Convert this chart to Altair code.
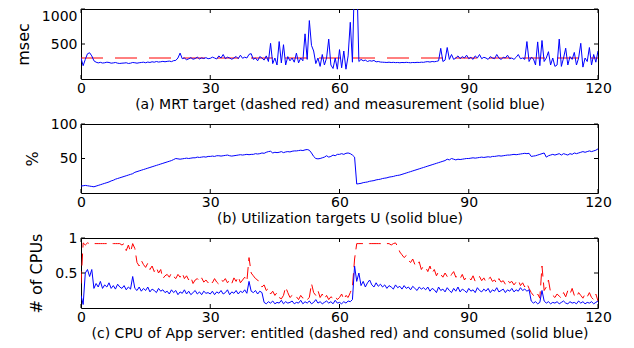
import altair as alt
import pandas as pd

STEP = 0.5  # minutes between samples

# (a) MRT measurement (msec), one value every 0.5 min from 0 to 120
mrt_measured = [
    300, 190, 280, 360, 375, 330, 260, 240, 230, 238, 228, 232, 240, 236, 226, 230, 236, 226, 222, 226,
    228, 232, 222, 226, 236, 232, 226, 232, 236, 240, 232, 242, 236, 246, 240, 250, 242, 246, 252, 246,
    252, 256, 248, 262, 266, 300, 370, 290, 300, 275, 288, 305, 282, 292, 312, 286, 302, 292, 305, 290,
    295, 312, 300, 286, 330, 300, 350, 290, 312, 300, 282, 300, 322, 290, 340, 296, 312, 300, 352, 362,
    280, 300, 260, 320, 300, 270, 330, 250, 510, 220, 300, 200, 535, 230, 490, 200, 320, 260, 300, 240,
    370, 230, 300, 260, 645, 280, 835, 480, 400, 220, 300, 180, 350, 200, 300, 570, 200, 150, 300, 140,
    420, 160, 400, 140, 330, 810, 240, 1500, 1500, 250, 280, 260, 270, 250, 262, 255, 265, 245, 250, 242,
    240, 238, 236, 240, 235, 238, 234, 236, 232, 236, 234, 238, 235, 232, 236, 234, 238, 236, 240, 238,
    245, 248, 242, 250, 246, 252, 260, 438, 250, 270, 450, 280, 350, 280, 300, 330, 290, 320, 300, 340,
    290, 310, 280, 330, 300, 350, 290, 310, 300, 280, 320, 300, 290, 350, 300, 280, 310, 300, 340, 290,
    300, 280, 310, 350, 290, 300, 280, 535, 250, 310, 290, 200, 530, 190, 550, 250, 300, 390, 200, 300,
    180, 200, 570, 180, 300, 440, 200, 320, 280, 380, 200, 300, 510, 170, 300, 250, 450, 200, 350, 240,
    400,
]
mrt_target_t = [0, 120]
mrt_target = [300, 300]

# (b) Utilization target U (%)
util = [
    10, 10.5, 11, 10.5, 10, 9.5, 9, 10, 11, 12, 13, 14, 15, 16, 17.5, 18.5, 20, 21, 22, 23,
    24, 25, 26, 27, 28, 30, 31, 32, 33, 34, 35, 36, 37, 38, 39, 40, 41, 42, 43, 44,
    45, 46, 47, 48.5, 50, 49.5, 49, 49.5, 50, 50.5, 50, 50.5, 51, 51, 52, 51.5, 52, 52.5, 52, 53,
    53, 53.5, 53, 54, 54, 53.5, 54, 54.5, 55, 54, 53.5, 54, 54.5, 55, 55.5, 55, 55.5, 56, 55.5, 56,
    56, 57, 56.5, 57, 58, 57.5, 59, 60, 60.5, 58, 59, 58.5, 59, 60, 58.5, 59.5, 60, 59.5, 60.5, 61,
    61, 61.5, 62, 61.5, 62.5, 63, 62, 58, 53, 50, 49.5, 50, 51, 52, 54, 52, 53, 55, 54, 56,
    56, 57, 56, 57.5, 58, 57, 55, 52, 13, 13.5, 14, 15, 15.5, 16, 17, 17.5, 18, 19, 19.5, 20,
    21, 21.5, 22, 23, 23.5, 24, 25, 25.5, 26, 27, 28, 29, 30, 31, 32, 33, 34, 35, 36, 37,
    38, 39, 40, 41, 42, 43, 44, 45, 46, 47, 49, 48, 50, 49, 48, 49, 48.5, 49, 49.5, 50,
    50, 50.5, 51, 50.5, 51, 51.5, 52, 51.5, 52, 52.5, 52, 53, 53, 53.5, 54, 53.5, 54, 54.5, 55, 55,
    55.5, 56, 55.5, 56, 56.5, 57, 57.5, 57, 57.5, 53, 53.5, 54, 55, 56, 57, 58, 52, 54, 55, 56,
    55, 56, 57, 55, 57, 56, 55, 57, 56, 58, 57, 58, 59, 60, 59, 60, 61, 60, 61, 62,
    64,
]

# (c) CPU of App server (# of CPUs)
cpu_consumed = [
    0.18, 0.05, 0.50, 0.55, 0.45, 0.55, 0.28, 0.35, 0.30, 0.38, 0.28, 0.33, 0.30, 0.36, 0.28, 0.32, 0.27, 0.34, 0.30, 0.28,
    0.32, 0.26, 0.30, 0.27, 0.45, 0.28, 0.25, 0.30, 0.24, 0.28, 0.25, 0.30, 0.23, 0.27, 0.25, 0.22, 0.28, 0.24, 0.26, 0.22,
    0.24, 0.20, 0.26, 0.22, 0.25, 0.19, 0.23, 0.21, 0.26, 0.20, 0.24, 0.19, 0.22, 0.25, 0.20, 0.23, 0.19, 0.24, 0.21, 0.22,
    0.20, 0.24, 0.19, 0.23, 0.21, 0.25, 0.20, 0.22, 0.26, 0.19, 0.23, 0.21, 0.25, 0.20, 0.24, 0.22, 0.26, 0.21, 0.38, 0.24,
    0.22, 0.25, 0.20, 0.24, 0.22, 0.08, 0.06, 0.09, 0.07, 0.10, 0.06, 0.08, 0.07, 0.11, 0.06, 0.09, 0.07, 0.08, 0.10, 0.06,
    0.08, 0.07, 0.11, 0.06, 0.09, 0.07, 0.10, 0.06, 0.08, 0.12, 0.07, 0.09, 0.06, 0.08, 0.10, 0.07, 0.09, 0.06, 0.11, 0.07,
    0.08, 0.06, 0.09, 0.07, 0.10, 0.09, 0.12, 0.60, 0.38, 0.50, 0.32, 0.38, 0.30, 0.36, 0.40, 0.33, 0.30, 0.36, 0.31, 0.34,
    0.30, 0.33, 0.28, 0.32, 0.30, 0.27, 0.33, 0.29, 0.31, 0.27, 0.32, 0.28, 0.30, 0.26, 0.31, 0.28, 0.25, 0.30, 0.27, 0.29,
    0.26, 0.30, 0.24, 0.28, 0.26, 0.22, 0.30, 0.25, 0.27, 0.23, 0.29, 0.25, 0.22, 0.28, 0.24, 0.30, 0.23, 0.27, 0.25, 0.22,
    0.28, 0.24, 0.26, 0.22, 0.29, 0.25, 0.23, 0.27, 0.24, 0.28, 0.22, 0.26, 0.24, 0.29, 0.23, 0.25, 0.27, 0.22, 0.26, 0.24,
    0.28, 0.23, 0.26, 0.24, 0.29, 0.25, 0.27, 0.24, 0.26, 0.10, 0.07, 0.09, 0.06, 0.08, 0.25, 0.10, 0.07, 0.09, 0.06, 0.08,
    0.07, 0.09, 0.06, 0.08, 0.10, 0.07, 0.06, 0.09, 0.07, 0.08, 0.06, 0.10, 0.07, 0.09, 0.06, 0.08, 0.07, 0.09, 0.06, 0.08,
    0.10,
]
cpu_entitled = [
    0.35, 0.93, 0.90, 0.93, 0.92, 0.92, 0.92, 0.92, 0.92, 0.92, 0.92, 0.92, 0.92, 0.92, 0.92, 0.92, 0.92, 0.92, 0.92, 0.90,
    0.92, 0.82, 0.90, 0.80, 0.92, 0.85, 0.65, 0.60, 0.68, 0.62, 0.58, 0.64, 0.55, 0.60, 0.52, 0.58, 0.50, 0.55, 0.42, 0.46,
    0.48, 0.44, 0.50, 0.45, 0.42, 0.48, 0.44, 0.50, 0.42, 0.46, 0.40, 0.44, 0.35, 0.40, 0.42, 0.38, 0.43, 0.37, 0.40, 0.36,
    0.40, 0.36, 0.42, 0.37, 0.34, 0.40, 0.38, 0.42, 0.36, 0.40, 0.35, 0.43, 0.38, 0.45, 0.36, 0.40, 0.44, 0.38, 0.72, 0.50,
    0.46, 0.42, 0.40, 0.35, 0.30, 0.33, 0.25, 0.28, 0.20, 0.24, 0.18, 0.22, 0.15, 0.13, 0.18, 0.30, 0.22, 0.15, 0.18, 0.14,
    0.16, 0.12, 0.18, 0.14, 0.16, 0.12, 0.15, 0.35, 0.22, 0.18, 0.25, 0.15, 0.20, 0.13, 0.18, 0.12, 0.16, 0.14, 0.17, 0.12,
    0.15, 0.20, 0.12, 0.18, 0.15, 0.22, 0.30, 0.70, 0.92, 0.92, 0.92, 0.92, 0.92, 0.92, 0.92, 0.92, 0.92, 0.92, 0.92, 0.92,
    0.92, 0.92, 0.92, 0.92, 0.90, 0.92, 0.93, 0.88, 0.80, 0.76, 0.72, 0.75, 0.68, 0.65, 0.70, 0.62, 0.60, 0.66, 0.55, 0.60,
    0.58, 0.52, 0.60, 0.50, 0.55, 0.46, 0.52, 0.48, 0.44, 0.50, 0.45, 0.42, 0.48, 0.52, 0.44, 0.46, 0.42, 0.48, 0.40, 0.45,
    0.44, 0.40, 0.46, 0.38, 0.42, 0.45, 0.39, 0.43, 0.37, 0.41, 0.44, 0.38, 0.40, 0.35, 0.42, 0.37, 0.39, 0.34, 0.40, 0.36,
    0.38, 0.33, 0.37, 0.40, 0.32, 0.36, 0.30, 0.35, 0.28, 0.22, 0.18, 0.15, 0.20, 0.14, 0.60, 0.25, 0.30, 0.40, 0.22, 0.18,
    0.15, 0.20, 0.17, 0.14, 0.22, 0.16, 0.25, 0.20, 0.28, 0.18, 0.15, 0.22, 0.18, 0.14, 0.20, 0.16, 0.22, 0.15, 0.12, 0.20,
    0.10,
]

x_ticks = [0, 30, 60, 90, 120]
y_ticks_a = [500, 1000]
y_ticks_b = [50, 100]
y_ticks_c = [0.5, 1]

title_a = "(a) MRT target (dashed red) and measurement (solid blue)"
title_b = "(b) Utilization targets  U (solid blue)"
title_c = "(c) CPU of App server: entitled (dashed red) and consumed (solid blue)"

FONT = "DejaVu Sans"
W = 517
BLUE = "#0000ff"
RED = "#ff0000"
TICK = 4


def times(n):
    return [i * STEP for i in range(n)]


def x_enc(xtitle):
    return alt.X(
        "t:Q",
        scale=alt.Scale(domain=[0, 120], nice=False, zero=False),
        axis=alt.Axis(values=x_ticks, title=xtitle, grid=False, tickSize=0, domain=False,
                      labelFlush=False, labelOverlap=False, labelPadding=2, titlePadding=2,
                      format="d", labelFont=FONT, labelFontSize=14, labelColor="black",
                      titleFont=FONT, titleFontSize=14, titleFontWeight="normal",
                      titleColor="black"),
    )


def y_enc(ytitle, ydomain, yticks, fmt, flush):
    return alt.Y(
        "v:Q",
        scale=alt.Scale(domain=ydomain, nice=False, zero=False),
        axis=alt.Axis(values=yticks, title=ytitle, grid=False, tickSize=0, domain=False,
                      labelFlush=flush, labelOverlap=False, labelPadding=4, titlePadding=10,
                      format=fmt, labelFont=FONT, labelFontSize=14, labelColor="black",
                      titleFont=FONT, titleFontSize=16, titleFontWeight="normal",
                      titleColor="black"),
    )


def panel(series, ytitle, xtitle, ydomain, yticks, fmt, h, flush):
    layers = []
    for df, color, dash in series:
        kw = dict(color=color, strokeWidth=1, clip=True)
        if dash:
            kw["strokeDash"] = dash
        layers.append(
            alt.Chart(df).mark_line(**kw).encode(
                x=x_enc(xtitle), y=y_enc(ytitle, ydomain, yticks, fmt, flush)
            )
        )
    xt = pd.DataFrame({"t": x_ticks})
    yt = pd.DataFrame({"v": yticks})
    layers.append(alt.Chart(xt).mark_rule(color="black", strokeWidth=1).encode(
        x=x_enc(xtitle), y=alt.value(0), y2=alt.value(TICK)))
    layers.append(alt.Chart(xt).mark_rule(color="black", strokeWidth=1).encode(
        x=x_enc(xtitle), y=alt.value(h), y2=alt.value(h - TICK)))
    layers.append(alt.Chart(yt).mark_rule(color="black", strokeWidth=1).encode(
        y=y_enc(ytitle, ydomain, yticks, fmt, flush), x=alt.value(0), x2=alt.value(TICK)))
    layers.append(alt.Chart(yt).mark_rule(color="black", strokeWidth=1).encode(
        y=y_enc(ytitle, ydomain, yticks, fmt, flush), x=alt.value(W), x2=alt.value(W - TICK)))
    return alt.layer(*layers).properties(width=W, height=h)


df_a_meas = pd.DataFrame({"t": times(len(mrt_measured)), "v": mrt_measured})
df_a_tgt = pd.DataFrame({"t": mrt_target_t, "v": mrt_target})
df_b = pd.DataFrame({"t": times(len(util)), "v": util})
df_c_ent = pd.DataFrame({"t": times(len(cpu_entitled)), "v": cpu_entitled})
df_c_con = pd.DataFrame({"t": times(len(cpu_consumed)), "v": cpu_consumed})

pa = panel([(df_a_tgt, RED, [22, 12]), (df_a_meas, BLUE, None)],
           "msec", title_a, [0, 1000], y_ticks_a, "d", 70, 1)
pb = panel([(df_b, BLUE, None)], "%", title_b, [0, 100], y_ticks_b, "d", 69, False)
pc = panel([(df_c_ent, RED, [12, 6]), (df_c_con, BLUE, None)],
           "# of CPUs", title_c, [0, 1], y_ticks_c, "g", 70, False)

chart = alt.vconcat(pa, pb, pc, spacing=4).properties(
    padding={"left": 6, "top": 0, "right": 0, "bottom": 0},
    background="white",
).configure_view(
    stroke="black", strokeWidth=1
)

chart.save("out.html", embed_options={"renderer": "svg", "actions": False})
